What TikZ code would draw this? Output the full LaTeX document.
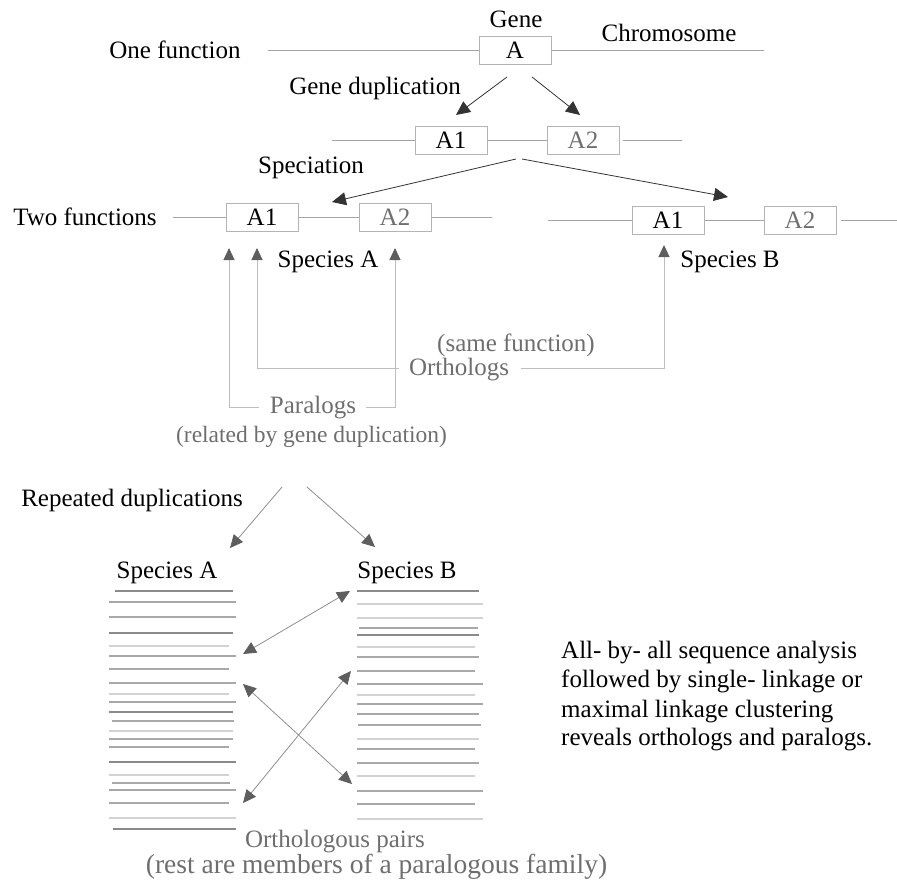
\documentclass[tikz,border=0pt]{standalone}
\usepackage{fontspec}
\setmainfont{Liberation Serif}
\usetikzlibrary{arrows.meta}

\definecolor{boxline}{HTML}{B4B4B4}
\definecolor{chrom}{HTML}{A4A4A4}
\definecolor{graytext}{HTML}{6E6E6E}
\definecolor{linkline}{HTML}{BEBEBE}
\definecolor{tipgray}{HTML}{5E5E5E}
\definecolor{pairline}{HTML}{8E8E8E}
\definecolor{seqdark}{HTML}{8A8A8A}
\definecolor{seqmid}{HTML}{A8A8A8}
\definecolor{seqlight}{HTML}{D2D2D2}

\tikzset{
  every node/.style={font=\fontsize{25}{29}\selectfont, inner sep=0pt},
  genebox/.style={draw=boxline, line width=1pt, minimum width=72pt, minimum height=28pt},
  graylabel/.style={text=graytext},
  chromline/.style={draw=chrom, line width=0.9pt},
  blackarrow/.style={draw=black!80, line width=0.8pt, -{Triangle[length=14pt,width=13pt]}},
  duparrow/.style={draw=pairline, line width=0.8pt, -{Triangle[length=13pt,width=12pt,color=tipgray]}},
  linkarrow/.style={draw=linkline, line width=1pt, -{Triangle[length=12pt,width=11pt,color=tipgray]}},
  pairarrow/.style={draw=pairline, line width=0.8pt,
    {Triangle[length=13pt,width=12pt,color=tipgray]}-{Triangle[length=13pt,width=12pt,color=tipgray]}},
  seqline/.style={line width=1.3pt}
}

\begin{document}
\begin{tikzpicture}[x=1pt,y=-1pt]
\useasboundingbox (0,0) rectangle (897,881);

% ---- one gene on the chromosome
\node[genebox] (A) at (515,50) {A};
\node (gene) at (516,19) {Gene};
\node (chromo) at (669,33) {Chromosome};
\node (onefun) at (175,50) {One function};
\coordinate (c1l) at (268,50);
\coordinate (c1r) at (764,50);
\draw[chromline] (c1l) -- (A.west);
\draw[chromline] (A.east) -- (c1r);

% ---- gene duplication
\node (genedup) at (375,88) {Gene duplication};
\node[genebox] (B1) at (451,140) {A1};
\node[genebox, graylabel] (B2) at (583,140) {A2};
\coordinate (c2l) at (332,140);
\coordinate (c2a) at (623,140);
\coordinate (c2r) at (682,140);
\draw[chromline] (c2l) -- (B1.west);
\draw[chromline] (B1.east) -- (B2.west);
\draw[chromline] (c2a) -- (c2r);
\coordinate (dupL) at (507,77);
\coordinate (dupR) at (532,77);
\coordinate (dupLt) at (456,115);
\coordinate (dupRt) at (580,115);
\draw[blackarrow] (dupL) -- (dupLt);
\draw[blackarrow] (dupR) -- (dupRt);

% ---- speciation
\node (spec) at (311,168) {Speciation};
\coordinate (spL) at (516,159);
\coordinate (spR) at (522,159);
\coordinate (spLt) at (332,202);
\coordinate (spRt) at (728,197);
\draw[blackarrow] (spL) -- (spLt);
\draw[blackarrow] (spR) -- (spRt);

% ---- species A
\node (twofun) at (85,217) {Two functions};
\node[genebox] (C1) at (262,217) {A1};
\node[genebox, graylabel] (C2) at (395,217) {A2};
\coordinate (c3l) at (173,217);
\coordinate (c3r) at (492,217);
\draw[chromline] (c3l) -- (C1.west);
\draw[chromline] (C1.east) -- (C2.west);
\draw[chromline] (C2.east) -- (c3r);
\node (spA) at (328,262) {Species A};

% ---- species B
\node[genebox] (D1) at (668,220) {A1};
\node[genebox, graylabel] (D2) at (800,220) {A2};
\coordinate (c4l) at (548,220);
\coordinate (c4a) at (841,220);
\coordinate (c4r) at (897,220);
\draw[chromline] (c4l) -- (D1.west);
\draw[chromline] (D1.east) -- (D2.west);
\draw[chromline] (c4a) -- (c4r);
\node (spB) at (730,262) {Species B};

% ---- orthologs and paralogs
\node[graylabel] (samefun) at (516,345) {(same function)};
\node[graylabel] (orth) at (459,370) {Orthologs};
\node[graylabel] (par) at (313,408) {Paralogs};
\node[graylabel, font=\fontsize{23.5}{27}\selectfont] (reldup) at (311.5,437) {(related by gene duplication)};
\coordinate (pLt) at (229,248);
\coordinate (pRt) at (395,248);
\coordinate (oAt) at (257,248);
\coordinate (oBt) at (664,245);
\draw[linkarrow] ([xshift=-11pt,yshift=1pt]par.west) -| (pLt);
\draw[linkarrow] ([xshift=10pt,yshift=1pt]par.east) -| (pRt);
\draw[linkarrow] ([xshift=-10pt,yshift=2pt]orth.west) -| (oAt);
\draw[linkarrow] ([xshift=12pt,yshift=2pt]orth.east) -| (oBt);

% ---- repeated duplications
\node (repdup) at (132,500) {Repeated duplications};
\coordinate (rdL) at (282,487);
\coordinate (rdR) at (307,487);
\coordinate (rdLt) at (230,548);
\coordinate (rdRt) at (375,547);
\draw[duparrow] (rdL) -- (rdLt);
\draw[duparrow] (rdR) -- (rdRt);
\node (spA2) at (167,573) {Species A};
\node (spB2) at (407,573) {Species B};

% ---- sequence families
\foreach \y/\xa/\xb/\c in {
  591/115/233/seqdark, 602/109/236/seqmid, 617/109/236/seqmid,
  633/109/233/seqdark, 646/109/229/seqlight, 656/109/236/seqmid,
  669/109/229/seqmid, 683/109/236/seqmid, 694/109/229/seqlight,
  702/109/236/seqmid, 712/109/233/seqdark, 721/112/234/seqmid,
  731/109/233/seqlight, 739/109/233/seqmid, 747/109/229/seqmid,
  762/109/236/seqdark, 775/109/229/seqlight, 783/112/230/seqmid,
  790/109/236/seqmid, 803/109/229/seqmid, 818/109/236/seqlight,
  829/113/236/seqdark}
  \draw[seqline, \c] (\xa,\y) -- (\xb,\y);
\foreach \y/\xa/\xb/\c in {
  591/357/479/seqdark, 604/357/483/seqlight, 618/357/483/seqlight,
  628/359/478/seqmid, 635/357/479/seqdark, 647/357/475/seqlight,
  657/357/479/seqmid, 671/357/475/seqmid, 684/357/483/seqmid,
  695/357/475/seqlight, 704/357/483/seqmid, 714/357/479/seqmid,
  725/358/481/seqmid, 739/357/479/seqlight, 749/357/475/seqmid,
  763/357/479/seqmid, 776/357/475/seqlight, 791/357/483/seqmid,
  804/357/475/seqmid, 819/357/483/seqlight}
  \draw[seqline, \c] (\xa,\y) -- (\xb,\y);

% ---- orthologous pairs
\coordinate (p1a) at (350,591);
\coordinate (p1b) at (243,654);
\coordinate (p2a) at (243,684);
\coordinate (p2b) at (352,784);
\coordinate (p3a) at (351,671);
\coordinate (p3b) at (243,803);
\draw[pairarrow] (p1a) -- (p1b);
\draw[pairarrow] (p2a) -- (p2b);
\draw[pairarrow] (p3a) -- (p3b);
\node[graylabel, anchor=base] (opairs) at (335,847) {Orthologous pairs};
\node[graylabel, anchor=base, font=\fontsize{27.5}{31}\selectfont] (rest) at (376.5,873) {(rest are members of a paralogous family)};

% ---- note
\node[anchor=base west] (note1) at (561,658) {All- by- all sequence analysis};
\node[anchor=base west] (note2) at (561,687) {followed by single- linkage or};
\node[anchor=base west] (note3) at (561,717) {maximal linkage clustering};
\node[anchor=base west] (note4) at (561,745) {reveals orthologs and paralogs.};
\end{tikzpicture}
\end{document}
